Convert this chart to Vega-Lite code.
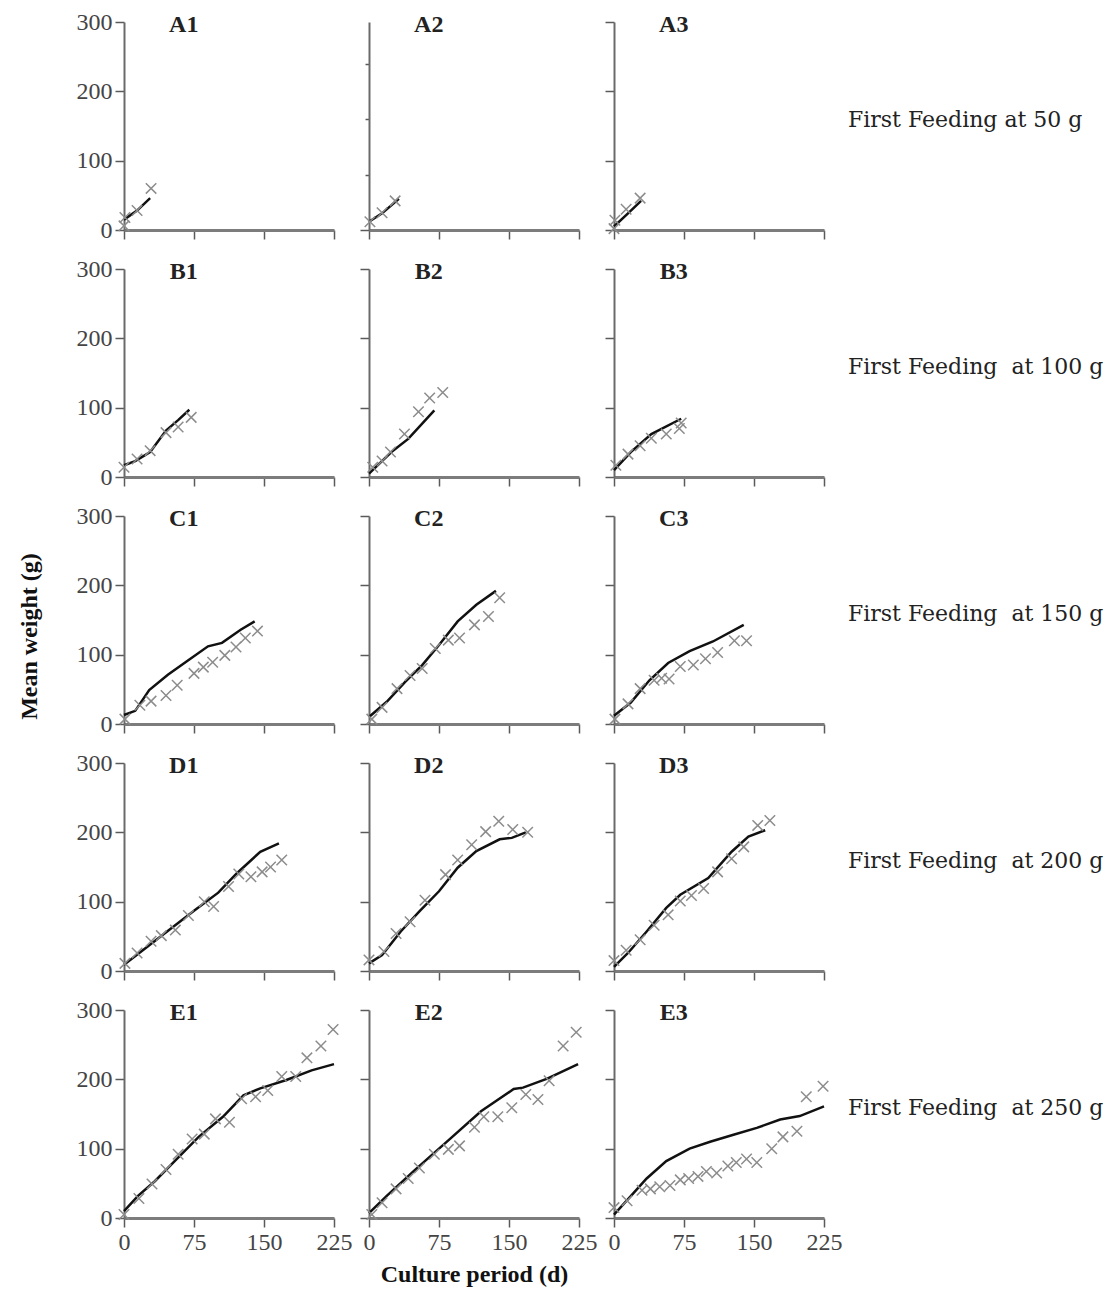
{
"$schema":"https://vega.github.io/schema/vega-lite/v6.json",
"padding":{"left":17,"top":10,"right":5,"bottom":5},
"background":"white",
"config":{"font":"Liberation Serif","view":{"stroke":null},
"axis":{"grid":false,"domainColor":"#6a6a6a","domainWidth":2,"tickColor":"#5a5a5a","tickWidth":1.5,"tickSize":9,"labelFont":"Liberation Serif","labelFontSize":24,"labelColor":"#444","labelPadding":3,"titleFont":"Liberation Serif","titleFontSize":24,"titleFontWeight":"bold","titleColor":"#111"},
"axisX":{"domainWidth":3,"domainColor":"#7c7c7c","labelFlush":false}},
"datasets":{"d":[
{"p":"A1","s":"m","d":0,"w":15},{"p":"A1","s":"m","d":14,"w":28},{"p":"A1","s":"m","d":28,"w":46},
{"p":"A1","s":"o","d":0,"w":6},{"p":"A1","s":"o","d":1,"w":18},{"p":"A1","s":"o","d":14,"w":28},{"p":"A1","s":"o","d":29,"w":60},
{"p":"A2","s":"m","d":0,"w":12},{"p":"A2","s":"m","d":14,"w":24},{"p":"A2","s":"m","d":32,"w":45},
{"p":"A2","s":"o","d":1,"w":12},{"p":"A2","s":"o","d":14,"w":25},{"p":"A2","s":"o","d":28,"w":42},
{"p":"A3","s":"m","d":0,"w":5},{"p":"A3","s":"m","d":15,"w":24},{"p":"A3","s":"m","d":29,"w":42},
{"p":"A3","s":"o","d":0,"w":2},{"p":"A3","s":"o","d":1,"w":14},{"p":"A3","s":"o","d":13,"w":30},{"p":"A3","s":"o","d":28,"w":46},
{"p":"B1","s":"m","d":0,"w":17},{"p":"B1","s":"m","d":12,"w":23},{"p":"B1","s":"m","d":28,"w":36},{"p":"B1","s":"m","d":45,"w":67},{"p":"B1","s":"m","d":58,"w":82},{"p":"B1","s":"m","d":70,"w":97},
{"p":"B1","s":"o","d":0,"w":14},{"p":"B1","s":"o","d":14,"w":26},{"p":"B1","s":"o","d":28,"w":38},{"p":"B1","s":"o","d":45,"w":64},{"p":"B1","s":"o","d":58,"w":72},{"p":"B1","s":"o","d":72,"w":86},
{"p":"B2","s":"m","d":0,"w":5},{"p":"B2","s":"m","d":24,"w":36},{"p":"B2","s":"m","d":42,"w":55},{"p":"B2","s":"m","d":70,"w":96},
{"p":"B2","s":"o","d":4,"w":14},{"p":"B2","s":"o","d":14,"w":23},{"p":"B2","s":"o","d":23,"w":36},{"p":"B2","s":"o","d":38,"w":62},{"p":"B2","s":"o","d":53,"w":94},{"p":"B2","s":"o","d":65,"w":114},{"p":"B2","s":"o","d":79,"w":122},
{"p":"B3","s":"m","d":0,"w":10},{"p":"B3","s":"m","d":18,"w":36},{"p":"B3","s":"m","d":40,"w":62},{"p":"B3","s":"m","d":72,"w":84},
{"p":"B3","s":"o","d":2,"w":17},{"p":"B3","s":"o","d":15,"w":33},{"p":"B3","s":"o","d":28,"w":45},{"p":"B3","s":"o","d":40,"w":56},{"p":"B3","s":"o","d":56,"w":62},{"p":"B3","s":"o","d":70,"w":70},{"p":"B3","s":"o","d":72,"w":78},
{"p":"C1","s":"m","d":0,"w":13},{"p":"C1","s":"m","d":12,"w":19},{"p":"C1","s":"m","d":27,"w":49},{"p":"C1","s":"m","d":47,"w":71},{"p":"C1","s":"m","d":67,"w":90},{"p":"C1","s":"m","d":90,"w":112},{"p":"C1","s":"m","d":105,"w":117},{"p":"C1","s":"m","d":125,"w":136},{"p":"C1","s":"m","d":140,"w":148},
{"p":"C1","s":"o","d":1,"w":7},{"p":"C1","s":"o","d":17,"w":27},{"p":"C1","s":"o","d":29,"w":33},{"p":"C1","s":"o","d":45,"w":41},{"p":"C1","s":"o","d":57,"w":56},{"p":"C1","s":"o","d":75,"w":73},{"p":"C1","s":"o","d":85,"w":82},{"p":"C1","s":"o","d":95,"w":89},{"p":"C1","s":"o","d":108,"w":99},{"p":"C1","s":"o","d":120,"w":111},{"p":"C1","s":"o","d":130,"w":124},{"p":"C1","s":"o","d":143,"w":134},
{"p":"C2","s":"m","d":0,"w":10},{"p":"C2","s":"m","d":19,"w":32},{"p":"C2","s":"m","d":39,"w":61},{"p":"C2","s":"m","d":57,"w":85},{"p":"C2","s":"m","d":75,"w":114},{"p":"C2","s":"m","d":95,"w":148},{"p":"C2","s":"m","d":115,"w":172},{"p":"C2","s":"m","d":136,"w":192},
{"p":"C2","s":"o","d":3,"w":7},{"p":"C2","s":"o","d":14,"w":24},{"p":"C2","s":"o","d":30,"w":51},{"p":"C2","s":"o","d":44,"w":70},{"p":"C2","s":"o","d":57,"w":80},{"p":"C2","s":"o","d":71,"w":109},{"p":"C2","s":"o","d":85,"w":121},{"p":"C2","s":"o","d":97,"w":124},{"p":"C2","s":"o","d":113,"w":143},{"p":"C2","s":"o","d":128,"w":155},{"p":"C2","s":"o","d":140,"w":182},
{"p":"C3","s":"m","d":0,"w":12},{"p":"C3","s":"m","d":18,"w":31},{"p":"C3","s":"m","d":38,"w":63},{"p":"C3","s":"m","d":58,"w":88},{"p":"C3","s":"m","d":81,"w":105},{"p":"C3","s":"m","d":106,"w":119},{"p":"C3","s":"m","d":139,"w":143},
{"p":"C3","s":"o","d":1,"w":7},{"p":"C3","s":"o","d":15,"w":29},{"p":"C3","s":"o","d":28,"w":51},{"p":"C3","s":"o","d":43,"w":63},{"p":"C3","s":"o","d":51,"w":66},{"p":"C3","s":"o","d":59,"w":65},{"p":"C3","s":"o","d":71,"w":83},{"p":"C3","s":"o","d":85,"w":85},{"p":"C3","s":"o","d":98,"w":94},{"p":"C3","s":"o","d":111,"w":103},{"p":"C3","s":"o","d":129,"w":120},{"p":"C3","s":"o","d":142,"w":120},
{"p":"D1","s":"m","d":0,"w":9},{"p":"D1","s":"m","d":25,"w":35},{"p":"D1","s":"m","d":50,"w":61},{"p":"D1","s":"m","d":75,"w":87},{"p":"D1","s":"m","d":101,"w":113},{"p":"D1","s":"m","d":121,"w":141},{"p":"D1","s":"m","d":146,"w":172},{"p":"D1","s":"m","d":166,"w":184},
{"p":"D1","s":"o","d":1,"w":11},{"p":"D1","s":"o","d":14,"w":26},{"p":"D1","s":"o","d":29,"w":43},{"p":"D1","s":"o","d":40,"w":51},{"p":"D1","s":"o","d":55,"w":59},{"p":"D1","s":"o","d":69,"w":80},{"p":"D1","s":"o","d":86,"w":100},{"p":"D1","s":"o","d":96,"w":93},{"p":"D1","s":"o","d":112,"w":122},{"p":"D1","s":"o","d":123,"w":140},{"p":"D1","s":"o","d":136,"w":136},{"p":"D1","s":"o","d":148,"w":143},{"p":"D1","s":"o","d":157,"w":150},{"p":"D1","s":"o","d":169,"w":160},
{"p":"D2","s":"m","d":0,"w":11},{"p":"D2","s":"m","d":14,"w":23},{"p":"D2","s":"m","d":34,"w":57},{"p":"D2","s":"m","d":54,"w":86},{"p":"D2","s":"m","d":75,"w":115},{"p":"D2","s":"m","d":95,"w":149},{"p":"D2","s":"m","d":115,"w":173},{"p":"D2","s":"m","d":140,"w":190},{"p":"D2","s":"m","d":153,"w":192},{"p":"D2","s":"m","d":168,"w":200},
{"p":"D2","s":"o","d":0,"w":16},{"p":"D2","s":"o","d":16,"w":28},{"p":"D2","s":"o","d":29,"w":54},{"p":"D2","s":"o","d":44,"w":71},{"p":"D2","s":"o","d":60,"w":102},{"p":"D2","s":"o","d":82,"w":139},{"p":"D2","s":"o","d":95,"w":160},{"p":"D2","s":"o","d":110,"w":182},{"p":"D2","s":"o","d":125,"w":201},{"p":"D2","s":"o","d":139,"w":216},{"p":"D2","s":"o","d":154,"w":204},{"p":"D2","s":"o","d":170,"w":200},
{"p":"D3","s":"m","d":0,"w":6},{"p":"D3","s":"m","d":15,"w":26},{"p":"D3","s":"m","d":35,"w":57},{"p":"D3","s":"m","d":56,"w":91},{"p":"D3","s":"m","d":71,"w":110},{"p":"D3","s":"m","d":101,"w":134},{"p":"D3","s":"m","d":126,"w":172},{"p":"D3","s":"m","d":144,"w":194},{"p":"D3","s":"m","d":162,"w":203},
{"p":"D3","s":"o","d":0,"w":15},{"p":"D3","s":"o","d":13,"w":30},{"p":"D3","s":"o","d":28,"w":45},{"p":"D3","s":"o","d":43,"w":66},{"p":"D3","s":"o","d":58,"w":81},{"p":"D3","s":"o","d":71,"w":101},{"p":"D3","s":"o","d":83,"w":109},{"p":"D3","s":"o","d":96,"w":119},{"p":"D3","s":"o","d":111,"w":143},{"p":"D3","s":"o","d":126,"w":162},{"p":"D3","s":"o","d":139,"w":179},{"p":"D3","s":"o","d":154,"w":210},{"p":"D3","s":"o","d":167,"w":217},
{"p":"E1","s":"m","d":0,"w":10},{"p":"E1","s":"m","d":15,"w":32},{"p":"E1","s":"m","d":33,"w":53},{"p":"E1","s":"m","d":58,"w":87},{"p":"E1","s":"m","d":80,"w":117},{"p":"E1","s":"m","d":106,"w":146},{"p":"E1","s":"m","d":128,"w":177},{"p":"E1","s":"m","d":146,"w":187},{"p":"E1","s":"m","d":174,"w":199},{"p":"E1","s":"m","d":201,"w":213},{"p":"E1","s":"m","d":225,"w":222},
{"p":"E1","s":"o","d":0,"w":5},{"p":"E1","s":"o","d":16,"w":28},{"p":"E1","s":"o","d":30,"w":49},{"p":"E1","s":"o","d":45,"w":70},{"p":"E1","s":"o","d":58,"w":92},{"p":"E1","s":"o","d":73,"w":114},{"p":"E1","s":"o","d":86,"w":121},{"p":"E1","s":"o","d":98,"w":143},{"p":"E1","s":"o","d":113,"w":138},{"p":"E1","s":"o","d":126,"w":172},{"p":"E1","s":"o","d":141,"w":175},{"p":"E1","s":"o","d":154,"w":184},{"p":"E1","s":"o","d":169,"w":204},{"p":"E1","s":"o","d":184,"w":204},{"p":"E1","s":"o","d":196,"w":231},{"p":"E1","s":"o","d":211,"w":248},{"p":"E1","s":"o","d":224,"w":272},
{"p":"E2","s":"m","d":0,"w":7},{"p":"E2","s":"m","d":19,"w":32},{"p":"E2","s":"m","d":49,"w":69},{"p":"E2","s":"m","d":85,"w":112},{"p":"E2","s":"m","d":120,"w":154},{"p":"E2","s":"m","d":155,"w":186},{"p":"E2","s":"m","d":165,"w":188},{"p":"E2","s":"m","d":191,"w":201},{"p":"E2","s":"m","d":224,"w":222},
{"p":"E2","s":"o","d":3,"w":5},{"p":"E2","s":"o","d":14,"w":22},{"p":"E2","s":"o","d":29,"w":42},{"p":"E2","s":"o","d":42,"w":57},{"p":"E2","s":"o","d":54,"w":72},{"p":"E2","s":"o","d":70,"w":92},{"p":"E2","s":"o","d":85,"w":99},{"p":"E2","s":"o","d":97,"w":104},{"p":"E2","s":"o","d":113,"w":131},{"p":"E2","s":"o","d":123,"w":146},{"p":"E2","s":"o","d":138,"w":146},{"p":"E2","s":"o","d":153,"w":159},{"p":"E2","s":"o","d":168,"w":178},{"p":"E2","s":"o","d":181,"w":171},{"p":"E2","s":"o","d":193,"w":198},{"p":"E2","s":"o","d":208,"w":248},{"p":"E2","s":"o","d":222,"w":268},
{"p":"E3","s":"m","d":0,"w":5},{"p":"E3","s":"m","d":17,"w":30},{"p":"E3","s":"m","d":35,"w":57},{"p":"E3","s":"m","d":56,"w":82},{"p":"E3","s":"m","d":81,"w":100},{"p":"E3","s":"m","d":103,"w":110},{"p":"E3","s":"m","d":128,"w":120},{"p":"E3","s":"m","d":153,"w":130},{"p":"E3","s":"m","d":178,"w":142},{"p":"E3","s":"m","d":199,"w":147},{"p":"E3","s":"m","d":225,"w":161},
{"p":"E3","s":"o","d":0,"w":15},{"p":"E3","s":"o","d":14,"w":25},{"p":"E3","s":"o","d":30,"w":40},{"p":"E3","s":"o","d":39,"w":42},{"p":"E3","s":"o","d":49,"w":45},{"p":"E3","s":"o","d":60,"w":47},{"p":"E3","s":"o","d":71,"w":55},{"p":"E3","s":"o","d":80,"w":57},{"p":"E3","s":"o","d":90,"w":60},{"p":"E3","s":"o","d":99,"w":67},{"p":"E3","s":"o","d":110,"w":65},{"p":"E3","s":"o","d":122,"w":75},{"p":"E3","s":"o","d":131,"w":80},{"p":"E3","s":"o","d":142,"w":85},{"p":"E3","s":"o","d":153,"w":80},{"p":"E3","s":"o","d":169,"w":100},{"p":"E3","s":"o","d":181,"w":117},{"p":"E3","s":"o","d":196,"w":125},{"p":"E3","s":"o","d":206,"w":175},{"p":"E3","s":"o","d":224,"w":190}
]},
"data":{"name":"d"},
"spacing":15,
"resolve":{"scale":{"x":"independent","y":"independent"}},
"vconcat":[
{"hconcat":[
{"width":210,"height":208,"layer":[
{"transform":[{"filter":"datum.p==='A1'&&datum.s==='m'"}],"mark":{"type":"line","color":"#111","strokeWidth":2.5},"encoding":{"x":{"field":"d","type":"quantitative","scale":{"domain":[0,225],"nice":false},"axis":{"values":[0,75,150,225],"labels":false,"title":null}},"y":{"field":"w","type":"quantitative","scale":{"domain":[0,300],"nice":false},"axis":{"values":[0,100,200,300],"title":null}}}},
{"transform":[{"filter":"datum.p==='A1'&&datum.s==='o'"}],"mark":{"type":"point","shape":"M-1,-1L1,1M-1,1L1,-1","filled":false,"color":"#8c8c8c","strokeWidth":1.5,"size":110,"opacity":1},"encoding":{"x":{"field":"d","type":"quantitative"},"y":{"field":"w","type":"quantitative"}}},
{"data":{"values":[{"t":"A1"}]},"mark":{"type":"text","fontSize":24,"fontWeight":"bold","baseline":"alphabetic","color":"#222"},"encoding":{"text":{"field":"t"},"x":{"datum":64},"y":{"datum":286}}}]},
{"width":210,"height":208,"layer":[
{"transform":[{"filter":"datum.p==='A2'&&datum.s==='m'"}],"mark":{"type":"line","color":"#111","strokeWidth":2.5},"encoding":{"x":{"field":"d","type":"quantitative","scale":{"domain":[0,225],"nice":false},"axis":{"values":[0,75,150,225],"labels":false,"title":null}},"y":{"field":"w","type":"quantitative","scale":{"domain":[0,300],"nice":false},"axis":{"values":[0,20,40,60,80,100,120,140,160,180,200,220,240,260,280,300],"labels":false,"title":null,"tickSize":{"condition":{"test":"datum.value % 100 === 0","value":9},"value":4}}}}},
{"transform":[{"filter":"datum.p==='A2'&&datum.s==='o'"}],"mark":{"type":"point","shape":"M-1,-1L1,1M-1,1L1,-1","filled":false,"color":"#8c8c8c","strokeWidth":1.5,"size":110,"opacity":1},"encoding":{"x":{"field":"d","type":"quantitative"},"y":{"field":"w","type":"quantitative"}}},
{"data":{"values":[{"t":"A2"}]},"mark":{"type":"text","fontSize":24,"fontWeight":"bold","baseline":"alphabetic","color":"#222"},"encoding":{"text":{"field":"t"},"x":{"datum":64},"y":{"datum":286}}}]},
{"width":210,"height":208,"layer":[
{"transform":[{"filter":"datum.p==='A3'&&datum.s==='m'"}],"mark":{"type":"line","color":"#111","strokeWidth":2.5},"encoding":{"x":{"field":"d","type":"quantitative","scale":{"domain":[0,225],"nice":false},"axis":{"values":[0,75,150,225],"labels":false,"title":null}},"y":{"field":"w","type":"quantitative","scale":{"domain":[0,300],"nice":false},"axis":{"values":[0,100,200,300],"labels":false,"title":null}}}},
{"transform":[{"filter":"datum.p==='A3'&&datum.s==='o'"}],"mark":{"type":"point","shape":"M-1,-1L1,1M-1,1L1,-1","filled":false,"color":"#8c8c8c","strokeWidth":1.5,"size":110,"opacity":1},"encoding":{"x":{"field":"d","type":"quantitative"},"y":{"field":"w","type":"quantitative"}}},
{"data":{"values":[{"t":"A3"}]},"mark":{"type":"text","fontSize":24,"fontWeight":"bold","baseline":"alphabetic","color":"#222"},"encoding":{"text":{"field":"t"},"x":{"datum":64},"y":{"datum":286}}}]},
{"width":250,"height":208,"data":{"values":[{"t":"First Feeding at 50 g"}]},"mark":{"type":"text","align":"left","baseline":"middle","font":"DejaVu Serif","fontSize":22,"dx":-11,"color":"#222"},"encoding":{"text":{"field":"t"},"x":{"datum":0,"scale":{"domain":[0,1]},"axis":null},"y":{"datum":0.53,"scale":{"domain":[0,1]},"axis":null}}}
],"spacing":35,"bounds":"flush","resolve":{"scale":{"x":"independent","y":"independent"}}},
{"hconcat":[
{"width":210,"height":208,"layer":[
{"transform":[{"filter":"datum.p==='B1'&&datum.s==='m'"}],"mark":{"type":"line","color":"#111","strokeWidth":2.5},"encoding":{"x":{"field":"d","type":"quantitative","scale":{"domain":[0,225],"nice":false},"axis":{"values":[0,75,150,225],"labels":false,"title":null}},"y":{"field":"w","type":"quantitative","scale":{"domain":[0,300],"nice":false},"axis":{"values":[0,100,200,300],"title":null}}}},
{"transform":[{"filter":"datum.p==='B1'&&datum.s==='o'"}],"mark":{"type":"point","shape":"M-1,-1L1,1M-1,1L1,-1","filled":false,"color":"#8c8c8c","strokeWidth":1.5,"size":110,"opacity":1},"encoding":{"x":{"field":"d","type":"quantitative"},"y":{"field":"w","type":"quantitative"}}},
{"data":{"values":[{"t":"B1"}]},"mark":{"type":"text","fontSize":24,"fontWeight":"bold","baseline":"alphabetic","color":"#222"},"encoding":{"text":{"field":"t"},"x":{"datum":64},"y":{"datum":286}}}]},
{"width":210,"height":208,"layer":[
{"transform":[{"filter":"datum.p==='B2'&&datum.s==='m'"}],"mark":{"type":"line","color":"#111","strokeWidth":2.5},"encoding":{"x":{"field":"d","type":"quantitative","scale":{"domain":[0,225],"nice":false},"axis":{"values":[0,75,150,225],"labels":false,"title":null}},"y":{"field":"w","type":"quantitative","scale":{"domain":[0,300],"nice":false},"axis":{"values":[0,100,200,300],"labels":false,"title":null}}}},
{"transform":[{"filter":"datum.p==='B2'&&datum.s==='o'"}],"mark":{"type":"point","shape":"M-1,-1L1,1M-1,1L1,-1","filled":false,"color":"#8c8c8c","strokeWidth":1.5,"size":110,"opacity":1},"encoding":{"x":{"field":"d","type":"quantitative"},"y":{"field":"w","type":"quantitative"}}},
{"data":{"values":[{"t":"B2"}]},"mark":{"type":"text","fontSize":24,"fontWeight":"bold","baseline":"alphabetic","color":"#222"},"encoding":{"text":{"field":"t"},"x":{"datum":64},"y":{"datum":286}}}]},
{"width":210,"height":208,"layer":[
{"transform":[{"filter":"datum.p==='B3'&&datum.s==='m'"}],"mark":{"type":"line","color":"#111","strokeWidth":2.5},"encoding":{"x":{"field":"d","type":"quantitative","scale":{"domain":[0,225],"nice":false},"axis":{"values":[0,75,150,225],"labels":false,"title":null}},"y":{"field":"w","type":"quantitative","scale":{"domain":[0,300],"nice":false},"axis":{"values":[0,100,200,300],"labels":false,"title":null}}}},
{"transform":[{"filter":"datum.p==='B3'&&datum.s==='o'"}],"mark":{"type":"point","shape":"M-1,-1L1,1M-1,1L1,-1","filled":false,"color":"#8c8c8c","strokeWidth":1.5,"size":110,"opacity":1},"encoding":{"x":{"field":"d","type":"quantitative"},"y":{"field":"w","type":"quantitative"}}},
{"data":{"values":[{"t":"B3"}]},"mark":{"type":"text","fontSize":24,"fontWeight":"bold","baseline":"alphabetic","color":"#222"},"encoding":{"text":{"field":"t"},"x":{"datum":64},"y":{"datum":286}}}]},
{"width":250,"height":208,"data":{"values":[{"t":"First Feeding\u00a0 at 100 g"}]},"mark":{"type":"text","align":"left","baseline":"middle","font":"DejaVu Serif","fontSize":22,"dx":-11,"color":"#222"},"encoding":{"text":{"field":"t"},"x":{"datum":0,"scale":{"domain":[0,1]},"axis":null},"y":{"datum":0.53,"scale":{"domain":[0,1]},"axis":null}}}
],"spacing":35,"bounds":"flush","resolve":{"scale":{"x":"independent","y":"independent"}}},
{"hconcat":[
{"width":210,"height":208,"layer":[
{"transform":[{"filter":"datum.p==='C1'&&datum.s==='m'"}],"mark":{"type":"line","color":"#111","strokeWidth":2.5},"encoding":{"x":{"field":"d","type":"quantitative","scale":{"domain":[0,225],"nice":false},"axis":{"values":[0,75,150,225],"labels":false,"title":null}},"y":{"field":"w","type":"quantitative","scale":{"domain":[0,300],"nice":false},"axis":{"values":[0,100,200,300],"title":"Mean weight (g)","titlePadding":35,"titleY":120}}}},
{"transform":[{"filter":"datum.p==='C1'&&datum.s==='o'"}],"mark":{"type":"point","shape":"M-1,-1L1,1M-1,1L1,-1","filled":false,"color":"#8c8c8c","strokeWidth":1.5,"size":110,"opacity":1},"encoding":{"x":{"field":"d","type":"quantitative"},"y":{"field":"w","type":"quantitative"}}},
{"data":{"values":[{"t":"C1"}]},"mark":{"type":"text","fontSize":24,"fontWeight":"bold","baseline":"alphabetic","color":"#222"},"encoding":{"text":{"field":"t"},"x":{"datum":64},"y":{"datum":286}}}]},
{"width":210,"height":208,"layer":[
{"transform":[{"filter":"datum.p==='C2'&&datum.s==='m'"}],"mark":{"type":"line","color":"#111","strokeWidth":2.5},"encoding":{"x":{"field":"d","type":"quantitative","scale":{"domain":[0,225],"nice":false},"axis":{"values":[0,75,150,225],"labels":false,"title":null}},"y":{"field":"w","type":"quantitative","scale":{"domain":[0,300],"nice":false},"axis":{"values":[0,100,200,300],"labels":false,"title":null}}}},
{"transform":[{"filter":"datum.p==='C2'&&datum.s==='o'"}],"mark":{"type":"point","shape":"M-1,-1L1,1M-1,1L1,-1","filled":false,"color":"#8c8c8c","strokeWidth":1.5,"size":110,"opacity":1},"encoding":{"x":{"field":"d","type":"quantitative"},"y":{"field":"w","type":"quantitative"}}},
{"data":{"values":[{"t":"C2"}]},"mark":{"type":"text","fontSize":24,"fontWeight":"bold","baseline":"alphabetic","color":"#222"},"encoding":{"text":{"field":"t"},"x":{"datum":64},"y":{"datum":286}}}]},
{"width":210,"height":208,"layer":[
{"transform":[{"filter":"datum.p==='C3'&&datum.s==='m'"}],"mark":{"type":"line","color":"#111","strokeWidth":2.5},"encoding":{"x":{"field":"d","type":"quantitative","scale":{"domain":[0,225],"nice":false},"axis":{"values":[0,75,150,225],"labels":false,"title":null}},"y":{"field":"w","type":"quantitative","scale":{"domain":[0,300],"nice":false},"axis":{"values":[0,100,200,300],"labels":false,"title":null}}}},
{"transform":[{"filter":"datum.p==='C3'&&datum.s==='o'"}],"mark":{"type":"point","shape":"M-1,-1L1,1M-1,1L1,-1","filled":false,"color":"#8c8c8c","strokeWidth":1.5,"size":110,"opacity":1},"encoding":{"x":{"field":"d","type":"quantitative"},"y":{"field":"w","type":"quantitative"}}},
{"data":{"values":[{"t":"C3"}]},"mark":{"type":"text","fontSize":24,"fontWeight":"bold","baseline":"alphabetic","color":"#222"},"encoding":{"text":{"field":"t"},"x":{"datum":64},"y":{"datum":286}}}]},
{"width":250,"height":208,"data":{"values":[{"t":"First Feeding\u00a0 at 150 g"}]},"mark":{"type":"text","align":"left","baseline":"middle","font":"DejaVu Serif","fontSize":22,"dx":-11,"color":"#222"},"encoding":{"text":{"field":"t"},"x":{"datum":0,"scale":{"domain":[0,1]},"axis":null},"y":{"datum":0.53,"scale":{"domain":[0,1]},"axis":null}}}
],"spacing":35,"bounds":"flush","resolve":{"scale":{"x":"independent","y":"independent"}}},
{"hconcat":[
{"width":210,"height":208,"layer":[
{"transform":[{"filter":"datum.p==='D1'&&datum.s==='m'"}],"mark":{"type":"line","color":"#111","strokeWidth":2.5},"encoding":{"x":{"field":"d","type":"quantitative","scale":{"domain":[0,225],"nice":false},"axis":{"values":[0,75,150,225],"labels":false,"title":null}},"y":{"field":"w","type":"quantitative","scale":{"domain":[0,300],"nice":false},"axis":{"values":[0,100,200,300],"title":null}}}},
{"transform":[{"filter":"datum.p==='D1'&&datum.s==='o'"}],"mark":{"type":"point","shape":"M-1,-1L1,1M-1,1L1,-1","filled":false,"color":"#8c8c8c","strokeWidth":1.5,"size":110,"opacity":1},"encoding":{"x":{"field":"d","type":"quantitative"},"y":{"field":"w","type":"quantitative"}}},
{"data":{"values":[{"t":"D1"}]},"mark":{"type":"text","fontSize":24,"fontWeight":"bold","baseline":"alphabetic","color":"#222"},"encoding":{"text":{"field":"t"},"x":{"datum":64},"y":{"datum":286}}}]},
{"width":210,"height":208,"layer":[
{"transform":[{"filter":"datum.p==='D2'&&datum.s==='m'"}],"mark":{"type":"line","color":"#111","strokeWidth":2.5},"encoding":{"x":{"field":"d","type":"quantitative","scale":{"domain":[0,225],"nice":false},"axis":{"values":[0,75,150,225],"labels":false,"title":null}},"y":{"field":"w","type":"quantitative","scale":{"domain":[0,300],"nice":false},"axis":{"values":[0,100,200,300],"labels":false,"title":null}}}},
{"transform":[{"filter":"datum.p==='D2'&&datum.s==='o'"}],"mark":{"type":"point","shape":"M-1,-1L1,1M-1,1L1,-1","filled":false,"color":"#8c8c8c","strokeWidth":1.5,"size":110,"opacity":1},"encoding":{"x":{"field":"d","type":"quantitative"},"y":{"field":"w","type":"quantitative"}}},
{"data":{"values":[{"t":"D2"}]},"mark":{"type":"text","fontSize":24,"fontWeight":"bold","baseline":"alphabetic","color":"#222"},"encoding":{"text":{"field":"t"},"x":{"datum":64},"y":{"datum":286}}}]},
{"width":210,"height":208,"layer":[
{"transform":[{"filter":"datum.p==='D3'&&datum.s==='m'"}],"mark":{"type":"line","color":"#111","strokeWidth":2.5},"encoding":{"x":{"field":"d","type":"quantitative","scale":{"domain":[0,225],"nice":false},"axis":{"values":[0,75,150,225],"labels":false,"title":null}},"y":{"field":"w","type":"quantitative","scale":{"domain":[0,300],"nice":false},"axis":{"values":[0,100,200,300],"labels":false,"title":null}}}},
{"transform":[{"filter":"datum.p==='D3'&&datum.s==='o'"}],"mark":{"type":"point","shape":"M-1,-1L1,1M-1,1L1,-1","filled":false,"color":"#8c8c8c","strokeWidth":1.5,"size":110,"opacity":1},"encoding":{"x":{"field":"d","type":"quantitative"},"y":{"field":"w","type":"quantitative"}}},
{"data":{"values":[{"t":"D3"}]},"mark":{"type":"text","fontSize":24,"fontWeight":"bold","baseline":"alphabetic","color":"#222"},"encoding":{"text":{"field":"t"},"x":{"datum":64},"y":{"datum":286}}}]},
{"width":250,"height":208,"data":{"values":[{"t":"First Feeding\u00a0 at 200 g"}]},"mark":{"type":"text","align":"left","baseline":"middle","font":"DejaVu Serif","fontSize":22,"dx":-11,"color":"#222"},"encoding":{"text":{"field":"t"},"x":{"datum":0,"scale":{"domain":[0,1]},"axis":null},"y":{"datum":0.53,"scale":{"domain":[0,1]},"axis":null}}}
],"spacing":35,"bounds":"flush","resolve":{"scale":{"x":"independent","y":"independent"}}},
{"hconcat":[
{"width":210,"height":208,"layer":[
{"transform":[{"filter":"datum.p==='E1'&&datum.s==='m'"}],"mark":{"type":"line","color":"#111","strokeWidth":2.5},"encoding":{"x":{"field":"d","type":"quantitative","scale":{"domain":[0,225],"nice":false},"axis":{"values":[0,75,150,225],"title":null}},"y":{"field":"w","type":"quantitative","scale":{"domain":[0,300],"nice":false},"axis":{"values":[0,100,200,300],"title":null}}}},
{"transform":[{"filter":"datum.p==='E1'&&datum.s==='o'"}],"mark":{"type":"point","shape":"M-1,-1L1,1M-1,1L1,-1","filled":false,"color":"#8c8c8c","strokeWidth":1.5,"size":110,"opacity":1},"encoding":{"x":{"field":"d","type":"quantitative"},"y":{"field":"w","type":"quantitative"}}},
{"data":{"values":[{"t":"E1"}]},"mark":{"type":"text","fontSize":24,"fontWeight":"bold","baseline":"alphabetic","color":"#222"},"encoding":{"text":{"field":"t"},"x":{"datum":64},"y":{"datum":286}}}]},
{"width":210,"height":208,"layer":[
{"transform":[{"filter":"datum.p==='E2'&&datum.s==='m'"}],"mark":{"type":"line","color":"#111","strokeWidth":2.5},"encoding":{"x":{"field":"d","type":"quantitative","scale":{"domain":[0,225],"nice":false},"axis":{"values":[0,75,150,225],"title":"Culture period (d)","titlePadding":8}},"y":{"field":"w","type":"quantitative","scale":{"domain":[0,300],"nice":false},"axis":{"values":[0,100,200,300],"labels":false,"title":null}}}},
{"transform":[{"filter":"datum.p==='E2'&&datum.s==='o'"}],"mark":{"type":"point","shape":"M-1,-1L1,1M-1,1L1,-1","filled":false,"color":"#8c8c8c","strokeWidth":1.5,"size":110,"opacity":1},"encoding":{"x":{"field":"d","type":"quantitative"},"y":{"field":"w","type":"quantitative"}}},
{"data":{"values":[{"t":"E2"}]},"mark":{"type":"text","fontSize":24,"fontWeight":"bold","baseline":"alphabetic","color":"#222"},"encoding":{"text":{"field":"t"},"x":{"datum":64},"y":{"datum":286}}}]},
{"width":210,"height":208,"layer":[
{"transform":[{"filter":"datum.p==='E3'&&datum.s==='m'"}],"mark":{"type":"line","color":"#111","strokeWidth":2.5},"encoding":{"x":{"field":"d","type":"quantitative","scale":{"domain":[0,225],"nice":false},"axis":{"values":[0,75,150,225],"title":null}},"y":{"field":"w","type":"quantitative","scale":{"domain":[0,300],"nice":false},"axis":{"values":[0,100,200,300],"labels":false,"title":null}}}},
{"transform":[{"filter":"datum.p==='E3'&&datum.s==='o'"}],"mark":{"type":"point","shape":"M-1,-1L1,1M-1,1L1,-1","filled":false,"color":"#8c8c8c","strokeWidth":1.5,"size":110,"opacity":1},"encoding":{"x":{"field":"d","type":"quantitative"},"y":{"field":"w","type":"quantitative"}}},
{"data":{"values":[{"t":"E3"}]},"mark":{"type":"text","fontSize":24,"fontWeight":"bold","baseline":"alphabetic","color":"#222"},"encoding":{"text":{"field":"t"},"x":{"datum":64},"y":{"datum":286}}}]},
{"width":250,"height":208,"data":{"values":[{"t":"First Feeding\u00a0 at 250 g"}]},"mark":{"type":"text","align":"left","baseline":"middle","font":"DejaVu Serif","fontSize":22,"dx":-11,"color":"#222"},"encoding":{"text":{"field":"t"},"x":{"datum":0,"scale":{"domain":[0,1]},"axis":null},"y":{"datum":0.53,"scale":{"domain":[0,1]},"axis":null}}}
],"spacing":35,"bounds":"flush","resolve":{"scale":{"x":"independent","y":"independent"}}}
]
}
